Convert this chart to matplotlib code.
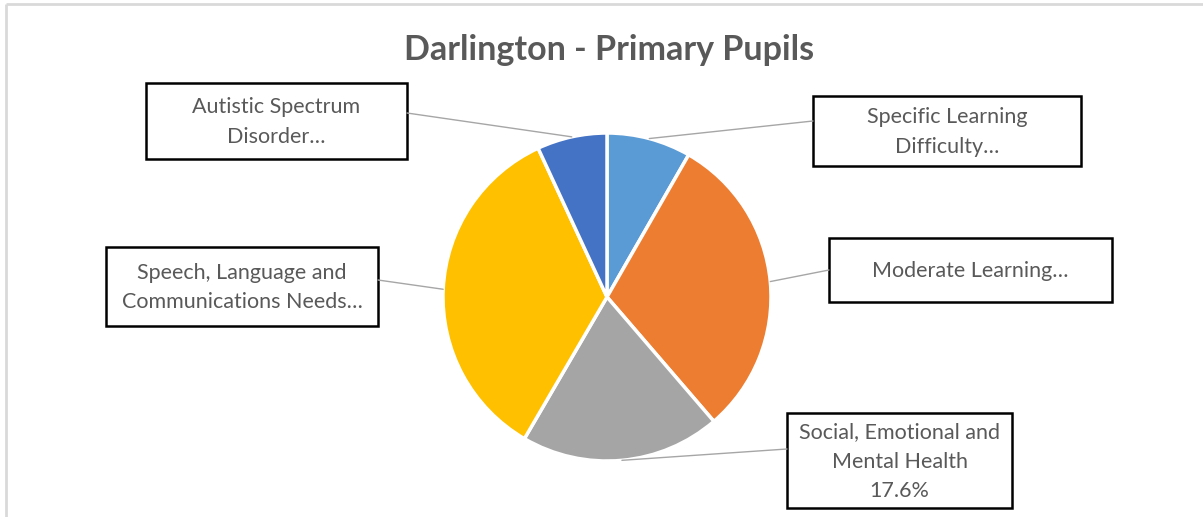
import numpy as np
import matplotlib.pyplot as plt
from matplotlib.patches import Rectangle, ConnectionPatch

# slices clockwise from 12 o'clock
categories = ["Specific Learning Difficulty", "Moderate Learning Difficulty",
              "Social, Emotional and Mental Health",
              "Speech, Language and Communications Needs",
              "Autistic Spectrum Disorder"]
shares = [8.3, 30.4, 19.7, 34.7, 6.9]
label_texts = ["Specific Learning\nDifficulty\u2026",
               "Moderate Learning\u2026",
               "Social, Emotional and\nMental Health\n17.6%",
               "Speech, Language and\nCommunications Needs\u2026",
               "Autistic Spectrum\nDisorder\u2026"]
colors = ["#5B9BD5", "#ED7D31", "#A5A5A5", "#FFC000", "#4472C4"]

W, H = 1203, 517
fig = plt.figure(figsize=(W / 100, H / 100), dpi=100)
plt.rcParams['font.family'] = ['Lato', 'DejaVu Sans']

# overlay in pixel coords (y down)
ov = fig.add_axes([0, 0, 1, 1])
ov.set_xlim(0, W)
ov.set_ylim(H, 0)
ov.axis('off')

# chart border (cropped)
ov.plot([6, W], [4, 4], color="#d9d9d9", lw=2, solid_capstyle='butt')
ov.plot([6, 6], [4, H], color="#d9d9d9", lw=2, solid_capstyle='butt')

ov.text(609, 50, "Darlington - Primary Pupils", ha='center', va='center',
        fontsize=24.5, fontweight='bold', color="#595959")

# pie axes
cx, cy, r = 607, 297, 164
ax = fig.add_axes([(cx - r) / W, (H - cy - r) / H, 2 * r / W, 2 * r / H])
wedges, _ = ax.pie(shares, colors=colors, startangle=90, counterclock=False,
                   wedgeprops=dict(edgecolor='white', linewidth=2.5))
ax.set_xlim(-1, 1)
ax.set_ylim(-1, 1)
ax.set_aspect('equal')
ax.axis('off')

# label boxes: (left, top, right, bottom), line anchor on box
boxes = [
    ((813, 96, 1081, 166), (813, 121)),
    ((829, 238, 1112, 302), (829, 270)),
    ((787, 413, 1012, 508), (787, 449)),
    ((106, 247, 378, 326), (378, 280)),
    ((146, 83, 407, 159), (407, 113)),
]

for w, txt, (box, anchor) in zip(wedges, label_texts, boxes):
    x0, y0, x1, y1 = box
    mid = np.deg2rad((w.theta1 + w.theta2) / 2)
    px, py = np.cos(mid), np.sin(mid)
    con = ConnectionPatch(xyA=(px, py), coordsA=ax.transData,
                          xyB=anchor, coordsB=ov.transData,
                          color="#a6a6a6", lw=1)
    fig.add_artist(con)
    ov.add_patch(Rectangle((x0, y0), x1 - x0, y1 - y0, fill=True,
                           facecolor='white', edgecolor='black', lw=1.8,
                           zorder=3))
    ov.text((x0 + x1) / 2, (y0 + y1) / 2 + 1, txt, ha='center', va='center',
            fontsize=15.5, color="#595959", linespacing=1.6, zorder=4)

fig.savefig("out.png", dpi=100)
